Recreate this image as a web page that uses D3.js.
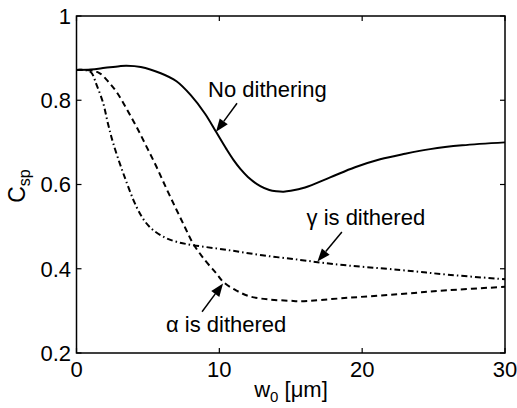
<!DOCTYPE html>
<html><head><meta charset="utf-8">
<script src="https://cdn.jsdelivr.net/npm/d3@7"></script>
<style>
html,body{margin:0;padding:0;background:#fff;}
text{font-family:"Liberation Sans",Arial,Helvetica,sans-serif;fill:#000;}
</style></head>
<body><svg id="c" width="517" height="408"></svg>
<script>
// ---- data ----
const xTicks = [0, 10, 20, 30];
const yTicks = [0.2, 0.4, 0.6, 0.8, 1];
const yTickLabels = ["0.2", "0.4", "0.6", "0.8", "1"];

const noDitherX = [0,1,2,3,3.5,4.5,5.9,7,8,9,9.77,10.5,11,11.5,12,12.87,13.5,14,14.5,15,16,17.76,19.5,21.26,23,24.76,27,30];
const noDitherY = [0.872,0.873,0.877,0.881,0.882,0.879,0.864,0.845,0.812,0.768,0.725,0.684,0.658,0.636,0.618,0.596,0.587,0.584,0.583,0.585,0.593,0.617,0.641,0.660,0.673,0.684,0.693,0.700];

const alphaX = [0,1,1.63,2.2,2.8,3.5,4.2,4.9,5.6,6.3,7.0,7.6,8.16,9.0,9.79,10.3,11.2,12.17,13.5,14.97,15.66,19,22.66,26,30];
const alphaY = [0.872,0.871,0.864,0.845,0.820,0.780,0.737,0.690,0.642,0.590,0.540,0.498,0.460,0.420,0.389,0.368,0.348,0.334,0.327,0.324,0.323,0.331,0.340,0.349,0.357];

const gammaX = [0,0.7,1.05,1.4,1.87,2.2,2.57,3.27,4.2,4.8,5.36,6.2,7.0,8.16,10.5,13,15.66,18,22.66,26,30];
const gammaY = [0.872,0.871,0.865,0.837,0.793,0.745,0.698,0.627,0.547,0.512,0.492,0.474,0.464,0.456,0.445,0.432,0.421,0.411,0.397,0.386,0.375];

const labels = ["No dithering", "γ is dithered", "α is dithered"];
const labelX = [9.21, 24.41, 14.69];
const labelY = [0.807, 0.504, 0.2506];
const labelAnchor = ["start", "end", "end"];
const arrowTail = [[11.24,0.793],[18.58,0.487],[8.79,0.298]];
const arrowTip  = [[9.77,0.725],[16.87,0.417],[10.26,0.365]];

// ---- chart ----
const svg = d3.select("#c");
const L = 76.5, R = 505, T = 16, B = 353;
const x = d3.scaleLinear().domain([0,30]).range([L,R]);
const y = d3.scaleLinear().domain([0.2,1]).range([B,T]);

const ax = svg.append("g");
ax.append("rect").attr("x",L).attr("y",T).attr("width",R-L).attr("height",B-T)
  .attr("fill","none").attr("stroke","#000").attr("stroke-width",1.5);

const tl = 5;
xTicks.forEach(t=>{
  ax.append("line").attr("x1",x(t)).attr("x2",x(t)).attr("y1",B).attr("y2",B-tl).attr("stroke","#000").attr("stroke-width",1.2);
  ax.append("line").attr("x1",x(t)).attr("x2",x(t)).attr("y1",T).attr("y2",T+tl).attr("stroke","#000").attr("stroke-width",1.2);
  ax.append("text").attr("x",x(t)).attr("y",377).attr("text-anchor","middle").attr("font-size",22).text(t);
});
yTicks.forEach((t,i)=>{
  ax.append("line").attr("x1",L).attr("x2",L+tl).attr("y1",y(t)).attr("y2",y(t)).attr("stroke","#000").attr("stroke-width",1.2);
  ax.append("line").attr("x1",R).attr("x2",R-tl).attr("y1",y(t)).attr("y2",y(t)).attr("stroke","#000").attr("stroke-width",1.2);
  ax.append("text").attr("x",71).attr("y",y(t)).attr("dy","0.36em").attr("text-anchor","end").attr("font-size",22).text(yTickLabels[i]);
});

// axis titles
const xt = svg.append("text").attr("x",291).attr("y",397).attr("text-anchor","middle").attr("font-size",22);
xt.append("tspan").text("w");
xt.append("tspan").attr("font-size",15).attr("dy",5).text("0");
xt.append("tspan").attr("dy",-5).text(" [μm]");

const yt = svg.append("text").attr("transform","translate(25,186) rotate(-90)").attr("text-anchor","middle").attr("font-size",23);
yt.append("tspan").text("C");
yt.append("tspan").attr("font-size",16).attr("dy",5).text("sp");

// curves
const line = d3.line().x(d=>x(d[0])).y(d=>y(d[1])).curve(d3.curveCatmullRom.alpha(0.5));
const series = [
  {xs:noDitherX, ys:noDitherY, dash:null},
  {xs:alphaX, ys:alphaY, dash:"6,4"},
  {xs:gammaX, ys:gammaY, dash:"6,3,1.5,3"}
];
series.forEach(s=>{
  const pts = s.xs.map((v,i)=>[v,s.ys[i]]);
  svg.append("path").datum(pts).attr("d",line).attr("fill","none")
    .attr("stroke","#000").attr("stroke-width",2)
    .attr("stroke-dasharray",s.dash);
});

// annotations
labels.forEach((t,i)=>{
  svg.append("text").attr("x",x(labelX[i])).attr("y",y(labelY[i]))
    .attr("text-anchor",labelAnchor[i]).attr("font-size",22).text(t);
  const x0=x(arrowTail[i][0]), y0=y(arrowTail[i][1]);
  const x1=x(arrowTip[i][0]), y1=y(arrowTip[i][1]);
  const dx=x1-x0, dy=y1-y0, len=Math.hypot(dx,dy), ux=dx/len, uy=dy/len;
  const hl=13, hw=5;
  const bx=x1-ux*hl, by=y1-uy*hl;
  svg.append("line").attr("x1",x0).attr("y1",y0).attr("x2",bx).attr("y2",by)
    .attr("stroke","#000").attr("stroke-width",1.5);
  svg.append("path").attr("d",`M${x1},${y1}L${bx-uy*hw},${by+ux*hw}L${bx+uy*hw},${by-ux*hw}Z`)
    .attr("fill","#000");
});
</script></body></html>
